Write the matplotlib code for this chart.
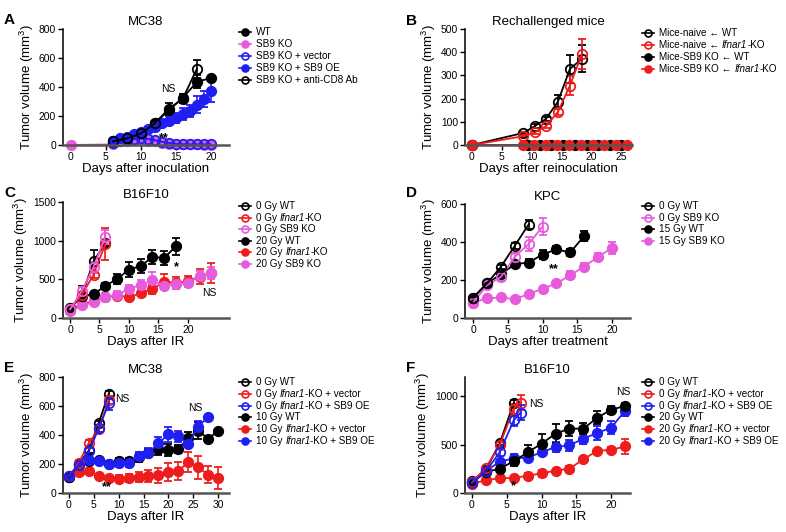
import matplotlib
matplotlib.use("Agg")
import matplotlib.pyplot as plt
from matplotlib.lines import Line2D

plt.rcParams['font.family'] = ['Liberation Sans', 'DejaVu Sans']
plt.rcParams['mathtext.fontset'] = 'custom'
plt.rcParams['mathtext.rm'] = 'Liberation Sans'
plt.rcParams['mathtext.it'] = 'Liberation Sans:italic'

BLACK = '#000000'
RED = '#EE1D1D'
BLUE = '#1F1FF2'
PINK = '#E65CDC'

W, H = 786, 532

# ---------------- data ----------------
# A  MC38
a_wt_days = [6, 8, 10, 12, 14, 16, 18, 20]
a_wt = [25, 45, 80, 150, 240, 325, 435, 462]
a_wt_err = [3, 5, 8, 15, 25, 30, 45, 12]
a_ko_days = [0, 6, 8, 9, 10, 11, 12, 13, 14, 15, 16, 17, 18, 19, 20]
a_ko = [0, 5, 25, 35, 35, 30, 25, 15, 10, 6, 5, 5, 4, 3, 3]
a_ko_err = [0, 2, 5, 6, 6, 5, 5, 4, 3, 2, 2, 2, 2, 2, 2]
a_vec_days = [6, 7, 8, 9, 10, 11, 12, 13, 14, 15, 16, 17, 18, 19, 20]
a_vec = [15, 25, 35, 40, 45, 42, 33, 22, 14, 8, 6, 5, 5, 4, 4]
a_vec_err = [3, 4, 5, 6, 6, 6, 5, 4, 3, 2, 2, 2, 2, 2, 2]
a_oe_days = [6, 7, 8, 9, 10, 11, 12, 13, 14, 15, 16, 17, 18, 19, 20]
a_oe = [28, 47, 58, 74, 88, 107, 126, 149, 167, 184, 212, 237, 279, 319, 374]
a_oe_err = [5, 6, 7, 8, 10, 12, 18, 25, 30, 35, 40, 42, 60, 55, 75]
a_cd8_days = [6, 8, 10, 12, 14, 16, 18]
a_cd8 = [25, 45, 80, 150, 250, 320, 525]
a_cd8_err = [3, 5, 8, 12, 40, 30, 60]

# B  Rechallenged mice
b_naive_days = [0, 8.6, 10.5, 12.4, 14.4, 16.4, 18.4]
b_naive_wt = [0, 52, 81, 113, 187, 328, 371]
b_naive_wt_err = [0, 5, 8, 8, 28, 62, 58]
b_naive_ko = [0, 38, 54, 81, 143, 256, 391]
b_naive_ko_err = [0, 4, 6, 8, 12, 40, 65]
b_sb_wt_days = [0, 9.4, 11.4, 13.3, 15.3, 17.2, 19.2, 21.1, 23.1, 25.0]
b_sb_wt = [0, 0, 0, 0, 0, 0, 0, 0, 0, 0]
b_sb_ko_days = [0, 8.5, 10.4, 12.4, 14.3, 16.3, 18.2, 20.2, 22.1, 24.1, 26.0]
b_sb_ko = [0, 0, 0, 0, 0, 0, 0, 0, 0, 0, 0]

# C  B16F10
c_0_days = [0, 2, 4, 6]
c_0wt = [130, 290, 732, 974]
c_0wt_err = [15, 125, 150, 40]
c_0ko = [120, 300, 561, 960]
c_0ko_err = [10, 40, 40, 210]
c_0sb = [110, 350, 658, 1053]
c_0sb_err = [10, 50, 70, 90]
c_20wt_days = [0, 2, 4, 6, 8, 10, 12, 14, 16, 18]
c_20wt = [123, 285, 307, 417, 504, 627, 671, 789, 776, 930]
c_20wt_err = [10, 30, 15, 40, 60, 100, 95, 90, 85, 110]
c_20_days = [0, 2, 4, 6, 8, 10, 12, 14, 16, 18, 20, 22, 24]
c_20ko = [100, 180, 215, 270, 290, 272, 320, 373, 470, 452, 474, 535, 583]
c_20ko_err = [10, 20, 30, 40, 40, 40, 40, 60, 100, 80, 70, 100, 130]
c_20sb = [90, 162, 206, 272, 298, 377, 425, 491, 412, 438, 452, 548, 583]
c_20sb_err = [10, 20, 40, 50, 50, 50, 70, 100, 40, 60, 55, 60, 80]

# D  KPC
d_0wt_days = [0, 2, 4, 6, 8]
d_0wt = [106, 182, 269, 380, 492]
d_0wt_err = [8, 10, 12, 15, 25]
d_0sb_days = [0, 2, 4, 6, 8, 10]
d_0sb = [80, 172, 216, 322, 389, 481]
d_0sb_err = [8, 10, 20, 20, 35, 45]
d_15wt_days = [0, 2, 4, 6, 8, 10, 12, 14, 16]
d_15wt = [106, 182, 230, 283, 292, 334, 361, 345, 432]
d_15wt_err = [8, 10, 12, 10, 20, 25, 20, 20, 25]
d_15sb_days = [0, 2, 4, 6, 8, 10, 12, 14, 16, 18, 20]
d_15sb = [80, 104, 108, 99, 126, 154, 182, 225, 271, 322, 368]
d_15sb_err = [5, 5, 5, 5, 5, 8, 15, 20, 20, 20, 30]

# E  MC38 (IR)
e_0_days = [0, 2, 4, 6, 8]
e_0wt = [110, 200, 295, 484, 685]
e_0wt_err = [5, 15, 20, 15, 20]
e_0vec = [115, 210, 346, 438, 641]
e_0vec_err = [5, 15, 20, 20, 30]
e_0oe = [115, 195, 288, 445, 618]
e_0oe_err = [5, 15, 25, 25, 45]
e_10_days = [0, 2, 4, 6, 8, 10, 12, 14, 16, 18, 20, 22, 24, 26, 28, 30]
e_10wt = [108, 200, 224, 226, 200, 224, 219, 245, 275, 305, 297, 303, 379, 430, 375, 427]
e_10wt_err = [5, 15, 15, 10, 15, 20, 25, 30, 30, 40, 40, 30, 40, 60, 15, 15]
e_10vec = [110, 146, 151, 114, 101, 98, 103, 110, 117, 121, 144, 151, 213, 178, 126, 103]
e_10vec_err = [5, 10, 10, 10, 10, 25, 30, 35, 40, 50, 60, 60, 70, 80, 60, 75]
e_10oe_days = [0, 2, 4, 6, 8, 10, 12, 14, 16, 18, 20, 22, 24, 26, 28]
e_10oe = [115, 196, 226, 219, 201, 206, 206, 254, 279, 343, 405, 390, 336, 458, 524]
e_10oe_err = [5, 15, 20, 15, 20, 25, 25, 30, 30, 40, 50, 40, 15, 40, 10]

# F  B16F10 (IR)
f_0wt_days = [0, 2, 4, 6]
f_0wt = [120, 240, 517, 931]
f_0wt_err = [10, 15, 20, 30]
f_0_days = [0, 2, 4, 6, 7]
f_0vec = [110, 262, 500, 872, 935]
f_0vec_err = [10, 15, 25, 50, 80]
f_0oe = [100, 224, 424, 752, 831]
f_0oe_err = [10, 15, 40, 60, 80]
f_20_days = [0, 2, 4, 6, 8, 10, 12, 14, 16, 18, 20, 22]
f_20wt = [110, 217, 252, 328, 421, 510, 614, 666, 666, 779, 862, 900]
f_20wt_err = [10, 15, 15, 50, 80, 100, 100, 80, 60, 70, 40, 30]
f_20vec = [97, 131, 155, 155, 179, 203, 231, 252, 348, 438, 445, 483]
f_20vec_err = [10, 10, 10, 10, 30, 35, 20, 30, 20, 20, 30, 80]
f_20oe = [110, 228, 324, 359, 366, 421, 476, 493, 562, 621, 676, 852]
f_20oe_err = [10, 15, 15, 40, 40, 30, 50, 60, 60, 70, 70, 60]


# ---------------- helpers ----------------
def make_ax(fig, left, right, top, bottom):
    return fig.add_axes([left / W, 1 - bottom / H, (right - left) / W, (bottom - top) / H])


def series(ax, days, vals, errs, color, filled):
    cont = ax.errorbar(days, vals, yerr=errs, color=color, marker='o', ms=6.8,
                       mfc=color if filled else 'none', mec=color, mew=1.3, lw=1.3,
                       capsize=3, elinewidth=1.2, capthick=1.2)
    for art in cont.get_children():
        art.set_clip_on(False)


def style(ax, xlim, ylim, xticks, yticks, title, xlabel):
    ax.set_xlim(xlim)
    ax.set_ylim(ylim)
    ax.set_xticks(xticks)
    ax.set_yticks(yticks)
    for s in ['top', 'right']:
        ax.spines[s].set_visible(False)
    ax.spines['left'].set_linewidth(1.1)
    ax.spines['bottom'].set_linewidth(1.8)
    ax.spines['bottom'].set_color('#555555')
    ax.tick_params(direction='out', length=3.5, width=1.0, labelsize=7.4, pad=1.5)
    ax.set_ylabel('Tumor volume (mm$^3$)', fontsize=9.5, labelpad=2)
    ax.set_xlabel(xlabel, fontsize=9.5, labelpad=1)
    ax.set_title(title, fontsize=9.5, pad=3)
    ax.patch.set_alpha(0)


def legend(fig, x, y0, entries, dy=12.1, size=7.2):
    # labels use '|' to switch between upright and italic pieces
    renderer = fig.canvas.get_renderer()
    for i, (label, color, filled) in enumerate(entries):
        fy = 1 - (y0 + i * dy) / H
        fig.add_artist(Line2D([(x - 6) / W, (x + 6) / W], [fy, fy], color=color, lw=1.2,
                              transform=fig.transFigure))
        fig.add_artist(Line2D([x / W], [fy], marker='o', ms=5, ls='none',
                              mfc=color if filled else 'none', mec=color, mew=1.2,
                              transform=fig.transFigure))
        xpos = x + 11
        for k, piece in enumerate(label.split('|')):
            if not piece:
                continue
            t = fig.text(xpos / W, fy, piece, va='center', ha='left', fontsize=size,
                         style='italic' if k % 2 else 'normal')
            xpos += t.get_window_extent(renderer).width


fig = plt.figure(figsize=(W / 100, H / 100), dpi=100)

# ---- A ----
ax = make_ax(fig, 63, 229, 29, 145)
series(ax, a_ko_days, a_ko, a_ko_err, PINK, True)
series(ax, a_vec_days, a_vec, a_vec_err, BLUE, False)
series(ax, a_wt_days, a_wt, a_wt_err, BLACK, True)
series(ax, a_oe_days, a_oe, a_oe_err, BLUE, True)
series(ax, a_cd8_days, a_cd8, a_cd8_err, BLACK, False)
style(ax, (-1.14, 22.6), (0, 800), [0, 5, 10, 15, 20], [0, 200, 400, 600, 800],
      'MC38', 'Days after inoculation')
ax.text(13.9, 385, 'NS', ha='center', va='center', fontsize=7.5)
ax.text(13.3, 48, '**', ha='center', va='center', fontsize=9, fontweight='bold')
legend(fig, 245, 32, [('WT', BLACK, True), ('SB9 KO', PINK, True),
                      ('SB9 KO + vector', BLUE, False), ('SB9 KO + SB9 OE', BLUE, True),
                      ('SB9 KO + anti-CD8 Ab', BLACK, False)])

# ---- B ----
ax = make_ax(fig, 465, 632, 29, 145)
series(ax, b_naive_days, b_naive_wt, b_naive_wt_err, BLACK, False)
series(ax, b_naive_days, b_naive_ko, b_naive_ko_err, RED, False)
series(ax, b_sb_wt_days, b_sb_wt, None, BLACK, True)
series(ax, b_sb_ko_days, b_sb_ko, None, RED, True)
style(ax, (-1.17, 26.8), (0, 500), [0, 5, 10, 15, 20, 25], [0, 100, 200, 300, 400, 500],
      'Rechallenged mice', 'Days after reinoculation')
legend(fig, 648, 33, [('Mice-naive \u2190 WT', BLACK, False),
                      ('Mice-naive \u2190 |Ifnar1|-KO', RED, False),
                      ('Mice-SB9 KO \u2190 WT', BLACK, True),
                      ('Mice-SB9 KO \u2190 |Ifnar1|-KO', RED, True)], size=7.1)

# ---- C ----
ax = make_ax(fig, 63, 229, 202, 318)
series(ax, c_20_days, c_20ko, c_20ko_err, RED, True)
series(ax, c_20_days, c_20sb, c_20sb_err, PINK, True)
series(ax, c_20wt_days, c_20wt, c_20wt_err, BLACK, True)
series(ax, c_0_days, c_0wt, c_0wt_err, BLACK, False)
series(ax, c_0_days, c_0ko, c_0ko_err, RED, False)
series(ax, c_0_days, c_0sb, c_0sb_err, PINK, False)
style(ax, (-1.2, 27), (0, 1500), [0, 5, 10, 15, 20], [0, 500, 1000, 1500],
      'B16F10', 'Days after IR')
ax.text(18, 660, '*', ha='center', va='center', fontsize=9, fontweight='bold')
ax.text(23.6, 327, 'NS', ha='center', va='center', fontsize=7.5)
legend(fig, 245, 206, [('0 Gy WT', BLACK, False),
                       ('0 Gy |Ifnar1|-KO', RED, False),
                       ('0 Gy SB9 KO', PINK, False),
                       ('20 Gy WT', BLACK, True),
                       ('20 Gy |Ifnar1|-KO', RED, True),
                       ('20 Gy SB9 KO', PINK, True)], dy=11.6, size=7.1)

# ---- D ----
ax = make_ax(fig, 465, 630, 204, 318)
series(ax, d_15sb_days, d_15sb, d_15sb_err, PINK, True)
series(ax, d_15wt_days, d_15wt, d_15wt_err, BLACK, True)
series(ax, d_0sb_days, d_0sb, d_0sb_err, PINK, False)
series(ax, d_0wt_days, d_0wt, d_0wt_err, BLACK, False)
style(ax, (-1.16, 22.6), (0, 600), [0, 5, 10, 15, 20], [0, 200, 400, 600],
      'KPC', 'Days after treatment')
ax.text(11.6, 258, '**', ha='center', va='center', fontsize=9, fontweight='bold')
legend(fig, 648, 206, [('0 Gy WT', BLACK, False), ('0 Gy SB9 KO', PINK, False),
                       ('15 Gy WT', BLACK, True), ('15 Gy SB9 KO', PINK, True)], dy=11.7)

# ---- E ----
ax = make_ax(fig, 63, 229, 377, 493)
series(ax, e_10_days, e_10vec, e_10vec_err, RED, True)
series(ax, e_10_days, e_10wt, e_10wt_err, BLACK, True)
series(ax, e_10oe_days, e_10oe, e_10oe_err, BLUE, True)
series(ax, e_0_days, e_0wt, e_0wt_err, BLACK, False)
series(ax, e_0_days, e_0vec, e_0vec_err, RED, False)
series(ax, e_0_days, e_0oe, e_0oe_err, BLUE, False)
style(ax, (-1.2, 32.2), (0, 800), [0, 5, 10, 15, 20, 25, 30], [0, 200, 400, 600, 800],
      'MC38', 'Days after IR')
ax.text(10.7, 647, 'NS', ha='center', va='center', fontsize=7.5)
ax.text(25.5, 585, 'NS', ha='center', va='center', fontsize=7.5)
ax.text(7.7, 38, '**', ha='center', va='center', fontsize=9, fontweight='bold')
legend(fig, 245, 382, [('0 Gy WT', BLACK, False),
                       ('0 Gy |Ifnar1|-KO + vector', RED, False),
                       ('0 Gy |Ifnar1|-KO + SB9 OE', BLUE, False),
                       ('10 Gy WT', BLACK, True),
                       ('10 Gy |Ifnar1|-KO + vector', RED, True),
                       ('10 Gy |Ifnar1|-KO + SB9 OE', BLUE, True)], dy=11.8, size=7.1)

# ---- F ----
ax = make_ax(fig, 465, 630, 377, 493)
series(ax, f_20_days, f_20vec, f_20vec_err, RED, True)
series(ax, f_20_days, f_20oe, f_20oe_err, BLUE, True)
series(ax, f_20_days, f_20wt, f_20wt_err, BLACK, True)
series(ax, f_0wt_days, f_0wt, f_0wt_err, BLACK, False)
series(ax, f_0_days, f_0vec, f_0vec_err, RED, False)
series(ax, f_0_days, f_0oe, f_0oe_err, BLUE, False)
style(ax, (-1.0, 22.7), (0, 1200), [0, 5, 10, 15, 20], [0, 500, 1000],
      'B16F10', 'Days after IR')
ax.text(9.2, 921, 'NS', ha='center', va='center', fontsize=7.5)
ax.text(21.7, 1044, 'NS', ha='center', va='center', fontsize=7.5)
ax.text(6.0, 75, '*', ha='center', va='center', fontsize=9, fontweight='bold')
legend(fig, 648, 382, [('0 Gy WT', BLACK, False),
                       ('0 Gy |Ifnar1|-KO + vector', RED, False),
                       ('0 Gy |Ifnar1|-KO + SB9 OE', BLUE, False),
                       ('20 Gy WT', BLACK, True),
                       ('20 Gy |Ifnar1|-KO + vector', RED, True),
                       ('20 Gy |Ifnar1|-KO + SB9 OE', BLUE, True)], dy=11.8, size=7.1)

# panel letters
for letter, (px, py) in zip('ABCDEF', [(4, 20), (406, 21), (4, 193), (406, 193), (4, 368), (406, 368)]):
    fig.text(px / W, 1 - py / H, letter, fontsize=11, fontweight='bold', va='center', ha='left')

fig.savefig('out.png', dpi=100)
